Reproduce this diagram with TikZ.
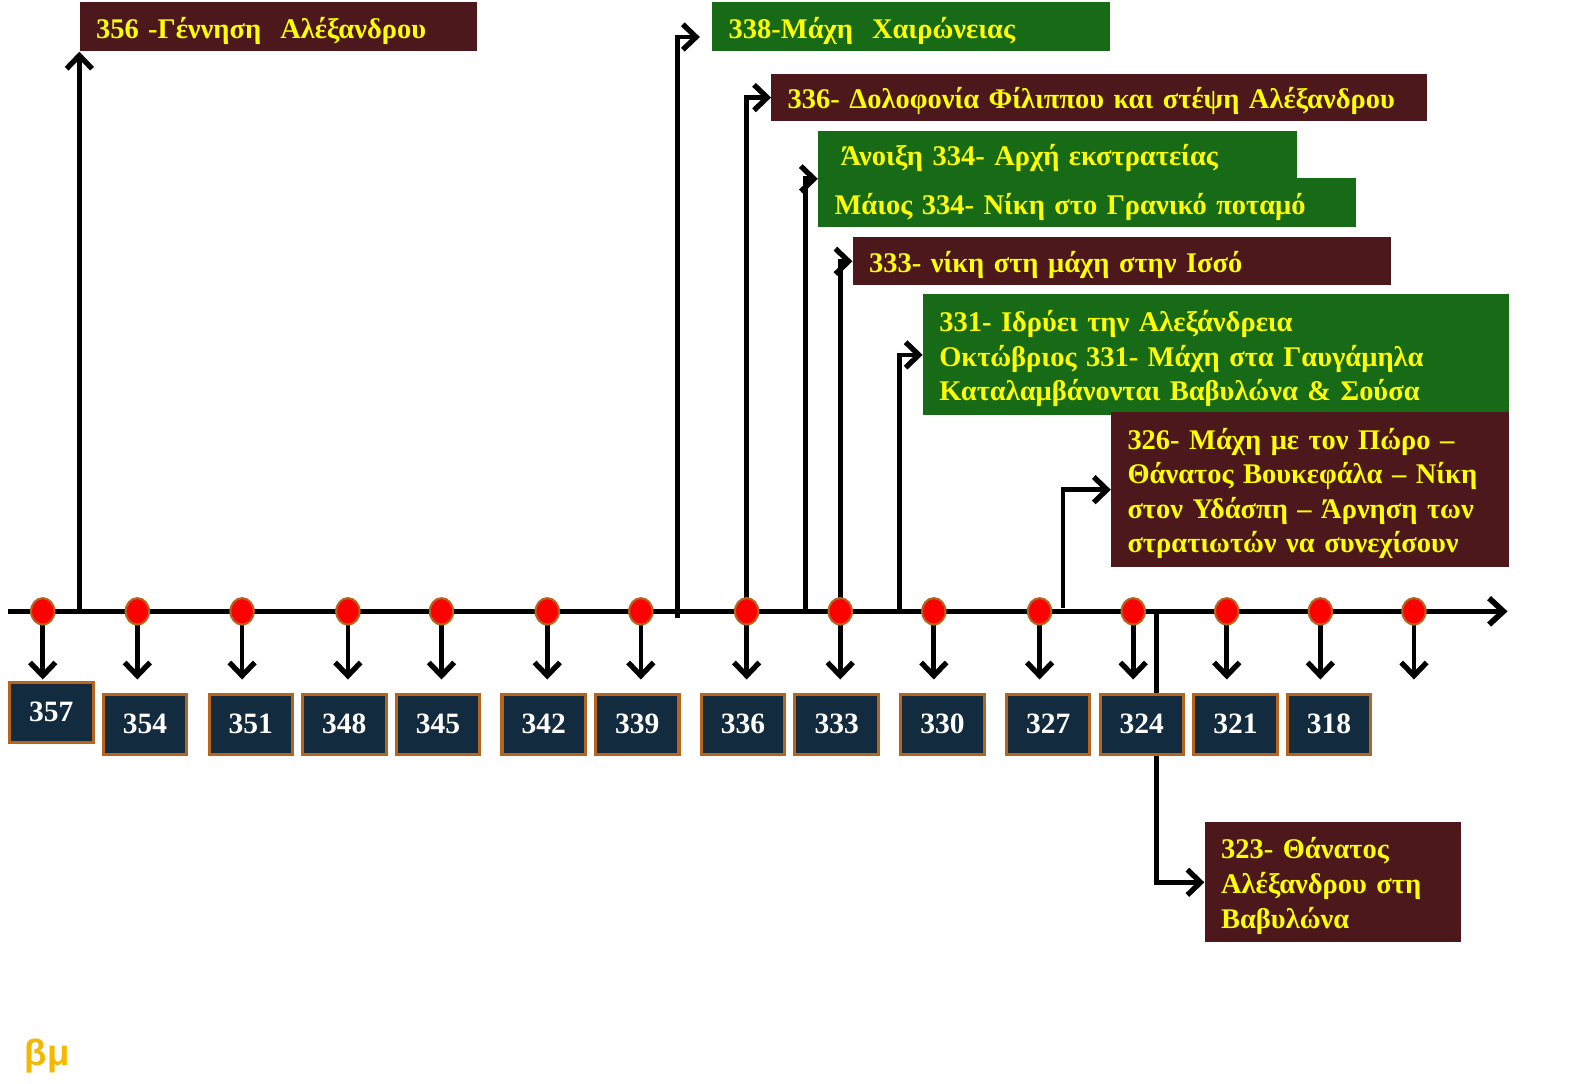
\documentclass[tikz,border=0pt]{standalone}
\usepackage{fontspec}
\setmainfont{Liberation Serif}
\newfontfamily\bmfont{Liberation Sans}
\usetikzlibrary{arrows.meta,shapes.geometric}
\definecolor{maroon}{HTML}{4C181C}
\definecolor{ggreen}{HTML}{176B17}
\definecolor{yel}{HTML}{FFFF00}
\definecolor{navy}{HTML}{132B3F}
\definecolor{brn}{HTML}{B5651D}
\definecolor{gold}{HTML}{F5B800}
\begin{document}
\begin{tikzpicture}[x=0.5pt,y=-0.5pt,
  chev/.style={-{Straight Barb[length=6.5pt,width=12.5pt,line width=2.6pt]}},
  conn/.style={chev,line width=2.3pt},
  axisline/.style={line width=2.8pt,-{Straight Barb[length=7pt,width=13pt,line width=2.8pt]}},
  lbox/.style={anchor=north west,inner xsep=8pt,inner ysep=0pt,text=yel,align=left,
    font=\bfseries\fontsize{14}{17}\selectfont,
    execute at begin node={\rule{0pt}{14pt}}},
  ybox/.style={anchor=north west,draw=brn,line width=1.5pt,fill=navy,text=white,
    minimum width=41pt,minimum height=29.5pt,inner sep=0pt,
    font=\bfseries\fontsize{14.5}{16}\selectfont},
  dot/.style={ellipse,draw=brn,line width=1pt,fill=red,minimum width=11.5pt,minimum height=13pt,inner sep=0pt}
]
\useasboundingbox (0,0) rectangle (1568,1065);

% label boxes
\node[lbox,fill=maroon,minimum height=24pt,text width=179.5pt] (b356) at (78,2) {356 -Γέννηση\ \ Αλέξανδρου};
\node[lbox,fill=ggreen,minimum height=24pt,text width=179.5pt] (b338) at (700,2) {338-Μάχη\ \ Χαιρώνειας};
\node[lbox,fill=maroon,minimum height=23.5pt,text width=306pt] (b336) at (758,72) {336- Δολοφονία Φίλιππου και στέψη Αλέξανδρου};
\node[lbox,fill=ggreen,minimum height=23.5pt,text width=219.5pt] (b334a) at (804,128) {\hspace{3pt}Άνοιξη 334- Αρχή εκστρατείας};
\node[lbox,fill=ggreen,minimum height=24pt,text width=248.5pt] (b334b) at (804,175) {Μάιος 334- Νίκη στο Γρανικό ποταμό};
\node[lbox,fill=maroon,minimum height=23.5pt,text width=248.5pt] (b333) at (838,233) {333- νίκη στη μάχη στην Ισσό};
\node[lbox,fill=ggreen,minimum height=59.5pt,text width=272pt] (b331) at (907,289) {331- Ιδρύει την Αλεξάνδρεια\\Οκτώβριος 331- Μάχη στα Γαυγάμηλα\\Καταλαμβάνονται Βαβυλώνα \& Σούσα};
\node[lbox,fill=maroon,minimum height=76pt,text width=179.5pt] (b326) at (1092,405) {326- Μάχη με τον Πώρο –\\Θάνατος Βουκεφάλα – Νίκη\\στον Υδάσπη – Άρνηση των\\στρατιωτών να συνεχίσουν};
\node[lbox,fill=maroon,minimum height=59pt,text width=110pt] (b323) at (1184,808) {323- Θάνατος\\Αλέξανδρου στη\\Βαβυλώνα};

% axis
\coordinate (ax0) at (8,601);
\coordinate (ax1) at (1482,601);
\draw[axisline] (ax0) -- (ax1);

% event connectors
\coordinate (c356) at (78,601);
\coordinate (c338) at (666,608);
\coordinate (c336) at (734,601);
\coordinate (c334) at (792,601);
\coordinate (c333) at (826,601);
\coordinate (c331) at (884,601);
\coordinate (c326) at (1045,598);
\coordinate (c323) at (1137,601);
\draw[conn] (c356) -- (b356.south west);
\draw[conn] (c338) |- ([xshift=-6pt,yshift=-5pt]b338.west);
\draw[conn] (c336) |- (b336.west);
\draw[conn] (c334) |- (b334a.south west);
\draw[conn] (c333) |- (b333.west);
\draw[conn] (c331) |- (b331.west);
\draw[conn] (c326) |- (b326.west);
\draw[conn] (c323) |- (b323.west);

% year ticks
\foreach \i/\dx in {1/42,2/135,3/238,4/342,5/434,6/538,7/630,8/734,9/826,10/918,11/1022,12/1114,13/1206,14/1298,15/1390}{
  \coordinate (d\i) at (\dx,601);
  \coordinate (e\i) at (\dx,668);
  \draw[conn] (d\i) -- (e\i);
  \node[dot] (dot\i) at (d\i) {};
}

% year boxes
\node[ybox,minimum height=29.5pt] (y357) at (8,669) {357};
\foreach \yr/\bx in {354/100,351/204,348/296,345/388,342/492,339/584,336/688,333/780,330/884,327/988,324/1080,321/1172,318/1264}{
  \node[ybox] (y\yr) at (\bx,681) {\yr};
}

\node[anchor=west,text=gold,inner sep=0pt,font=\bmfont\bfseries\fontsize{18}{20}\selectfont] (bm) at (24,1038) {βμ};
\end{tikzpicture}
\end{document}
